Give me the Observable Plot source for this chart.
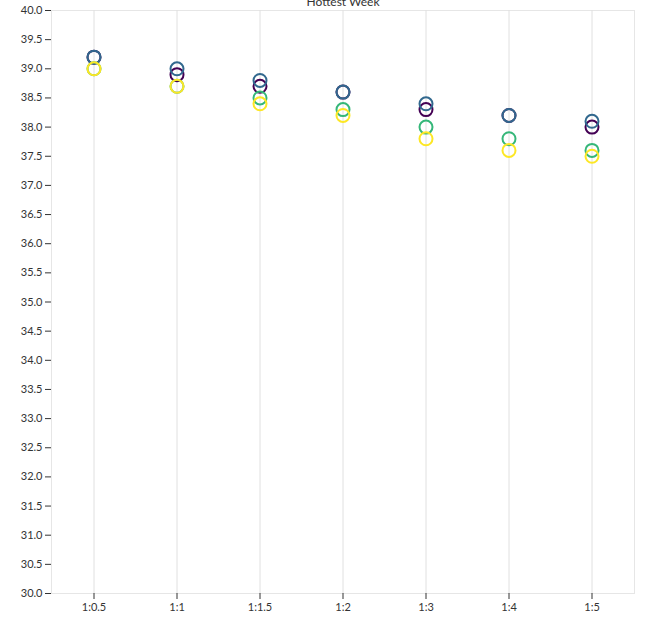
<!DOCTYPE html>
<html>
<head>
<meta charset="utf-8">
<script src="https://cdn.jsdelivr.net/npm/d3@7"></script>
<script src="https://cdn.jsdelivr.net/npm/@observablehq/plot@0.6"></script>
<style>
  html, body { margin: 0; padding: 0; background: #fff; overflow: hidden; }
  #chart svg { display: block; }
</style>
</head>
<body>
<div id="chart"></div>
<script>
const title = "Hottest Week";
const ratios = ["1:0.5", "1:1", "1:1.5", "1:2", "1:3", "1:4", "1:5"];
const seriesNames = ["A", "B", "C", "D"];
const seriesColors = ["#440154", "#31688e", "#35b779", "#fde725"];
const valuesA = [39.2, 38.9, 38.7, 38.6, 38.3, 38.2, 38.0];
const valuesB = [39.2, 39.0, 38.8, 38.6, 38.4, 38.2, 38.1];
const valuesC = [39.0, 38.7, 38.5, 38.3, 38.0, 37.8, 37.6];
const valuesD = [39.0, 38.7, 38.4, 38.2, 37.8, 37.6, 37.5];
const yTicks = [30, 30.5, 31, 31.5, 32, 32.5, 33, 33.5, 34, 34.5, 35, 35.5, 36, 36.5, 37, 37.5, 38, 38.5, 39, 39.5, 40];

const allValues = [valuesA, valuesB, valuesC, valuesD];
const data = [];
seriesNames.forEach((s, i) => {
  ratios.forEach((r, j) => data.push({series: s, ratio: r, value: allValues[i][j]}));
});

const plot = Plot.plot({
  width: 653,
  height: 622,
  marginLeft: 51,
  marginRight: 19,
  marginTop: 10,
  marginBottom: 29,
  style: {fontFamily: "Lato, 'Open Sans', sans-serif", fontSize: "11px", color: "#333", background: "#fff"},
  x: {domain: ratios, type: "band", padding: 0, label: null, tickSize: 6, tickPadding: 4},
  y: {domain: [30, 40], ticks: yTicks, tickFormat: d3.format(".1f"), label: null, tickSize: 6, tickPadding: 3},
  color: {domain: seriesNames, range: seriesColors},
  marks: [
    Plot.frame({stroke: "#e6e6e6", strokeOpacity: 1}),
    Plot.gridX({stroke: "#e0e0e0", strokeOpacity: 1}),
    Plot.axisY({ticks: yTicks, tickFormat: d3.format(".1f"), tickSize: 6, tickPadding: 3, stroke: "#333", label: null}),
    Plot.axisX({tickSize: 6, tickPadding: 4, stroke: "#333", label: null}),
    Plot.dot(data, {x: "ratio", y: "value", stroke: "series", r: 6.5, strokeWidth: 2}),
    Plot.text([title], {frameAnchor: "top", dy: -13, fontSize: 12, fill: "#333", text: d => d})
  ]
});
document.getElementById("chart").appendChild(plot);
</script>
</body>
</html>
